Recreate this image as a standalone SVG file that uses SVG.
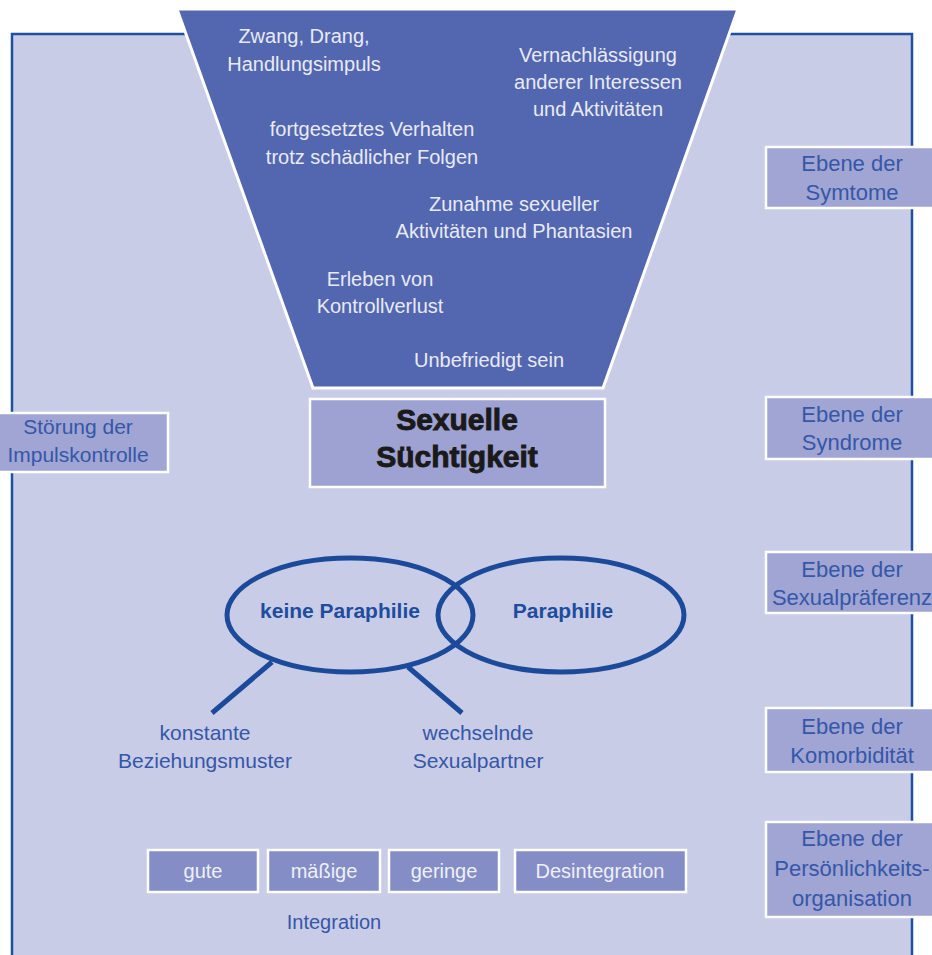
<svg xmlns="http://www.w3.org/2000/svg" width="932" height="955" viewBox="0 0 932 955">
<style>
text{font-family:"Liberation Sans",Arial,sans-serif;text-anchor:middle}
.fun{fill:#e8eaf5;font-size:20px}
.lbl{fill:#3557a8;font-size:22px}
.lbox{fill:#a0a5d3;stroke:#fff;stroke-width:2.5}
.ibox{fill:#848dc5;stroke:#fff;stroke-width:2.5}
.itx{fill:#eef0f8;font-size:20px}
.blue{fill:#3557a8;font-size:21px}
.ell{fill:none;stroke:#1c4a9a;stroke-width:5}
.bold{fill:#1e4c9e;font-size:21px;font-weight:bold}
.big{font-size:30px;font-weight:bold;fill:#1a1a1a;stroke:#1a1a1a;stroke-width:0.9}
</style>
<rect width="932" height="955" fill="#fff"/>
<g id="frame"><path d="M12,960 V34 H912 V960" fill="#c9cce6" stroke="#1f4fa0" stroke-width="2.5"/></g>
<g id="funnel">
<polygon points="177,9 738,9 603,388 313,388" fill="#5366b0" stroke="#fff" stroke-width="3"/>
<text class="fun" x="304" y="43">Zwang, Drang,</text>
<text class="fun" x="304" y="71">Handlungsimpuls</text>
<text class="fun" x="598" y="62">Vernachlässigung</text>
<text class="fun" x="598" y="89">anderer Interessen</text>
<text class="fun" x="598" y="116">und Aktivitäten</text>
<text class="fun" x="372" y="136">fortgesetztes Verhalten</text>
<text class="fun" x="372" y="164">trotz schädlicher Folgen</text>
<text class="fun" x="514" y="211">Zunahme sexueller</text>
<text class="fun" x="514" y="238">Aktivitäten und Phantasien</text>
<text class="fun" x="380" y="286">Erleben von</text>
<text class="fun" x="380" y="313">Kontrollverlust</text>
<text class="fun" x="489" y="367">Unbefriedigt sein</text>
</g>
<g id="sucht">
<rect x="310" y="399" width="295" height="88" fill="#9ea2d2" stroke="#fff" stroke-width="2.5"/>
<text class="big" x="457" y="430">Sexuelle</text>
<text class="big" x="457" y="467">Süchtigkeit</text>
</g>
<g id="stoerung">
<rect x="-2" y="413" width="170" height="59" class="lbox"/>
<text class="lbl" x="78" y="434" style="font-size:21px">Störung der</text>
<text class="lbl" x="78" y="462" style="font-size:21px">Impulskontrolle</text>
</g>
<g id="symtome">
<rect x="766" y="147" width="170" height="61" class="lbox"/>
<text class="lbl" x="852" y="171">Ebene der</text>
<text class="lbl" x="852" y="200">Symtome</text>
</g>
<g id="syndrome">
<rect x="766" y="397" width="170" height="62" class="lbox"/>
<text class="lbl" x="852" y="422">Ebene der</text>
<text class="lbl" x="852" y="450">Syndrome</text>
</g>
<g id="sexualpraeferenz">
<rect x="766" y="552" width="170" height="61" class="lbox"/>
<text class="lbl" x="852" y="577">Ebene der</text>
<text class="lbl" x="852" y="605">Sexualpräferenz</text>
</g>
<g id="komorbiditaet">
<rect x="766" y="708" width="170" height="64" class="lbox"/>
<text class="lbl" x="852" y="734">Ebene der</text>
<text class="lbl" x="852" y="763">Komorbidität</text>
</g>
<g id="persoenlichkeit">
<rect x="766" y="822" width="170" height="95" class="lbox"/>
<text class="lbl" x="852" y="846">Ebene der</text>
<text class="lbl" x="852" y="876">Persönlichkeits-</text>
<text class="lbl" x="852" y="906">organisation</text>
</g>
<g id="keine-paraphilie">
<ellipse class="ell" cx="350" cy="615" rx="123" ry="57"/>
<text class="bold" x="340" y="618">keine Paraphilie</text>
</g>
<g id="paraphilie">
<ellipse class="ell" cx="561" cy="615" rx="123" ry="57"/>
<text class="bold" x="563" y="618">Paraphilie</text>
</g>
<g id="connectors">
<line x1="272" y1="662" x2="212" y2="713" stroke="#1c4a9a" stroke-width="5"/>
<line x1="408" y1="667" x2="462" y2="713" stroke="#1c4a9a" stroke-width="5"/>
</g>
<g id="konstante">
<text class="blue" x="205" y="740">konstante</text>
<text class="blue" x="205" y="768">Beziehungsmuster</text>
</g>
<g id="wechselnde">
<text class="blue" x="478" y="740">wechselnde</text>
<text class="blue" x="478" y="768">Sexualpartner</text>
</g>
<g id="gute"><rect class="ibox" x="148" y="850" width="110" height="42"/><text class="itx" x="203" y="878">gute</text></g>
<g id="maessige"><rect class="ibox" x="268" y="850" width="112" height="42"/><text class="itx" x="324" y="878">mäßige</text></g>
<g id="geringe"><rect class="ibox" x="389" y="850" width="110" height="42"/><text class="itx" x="444" y="878">geringe</text></g>
<g id="desintegration"><rect class="ibox" x="515" y="850" width="171" height="42"/><text class="itx" x="600" y="878">Desintegration</text></g>
<g id="integration"><text class="blue" x="334" y="929" style="font-size:20px">Integration</text></g>
</svg>
